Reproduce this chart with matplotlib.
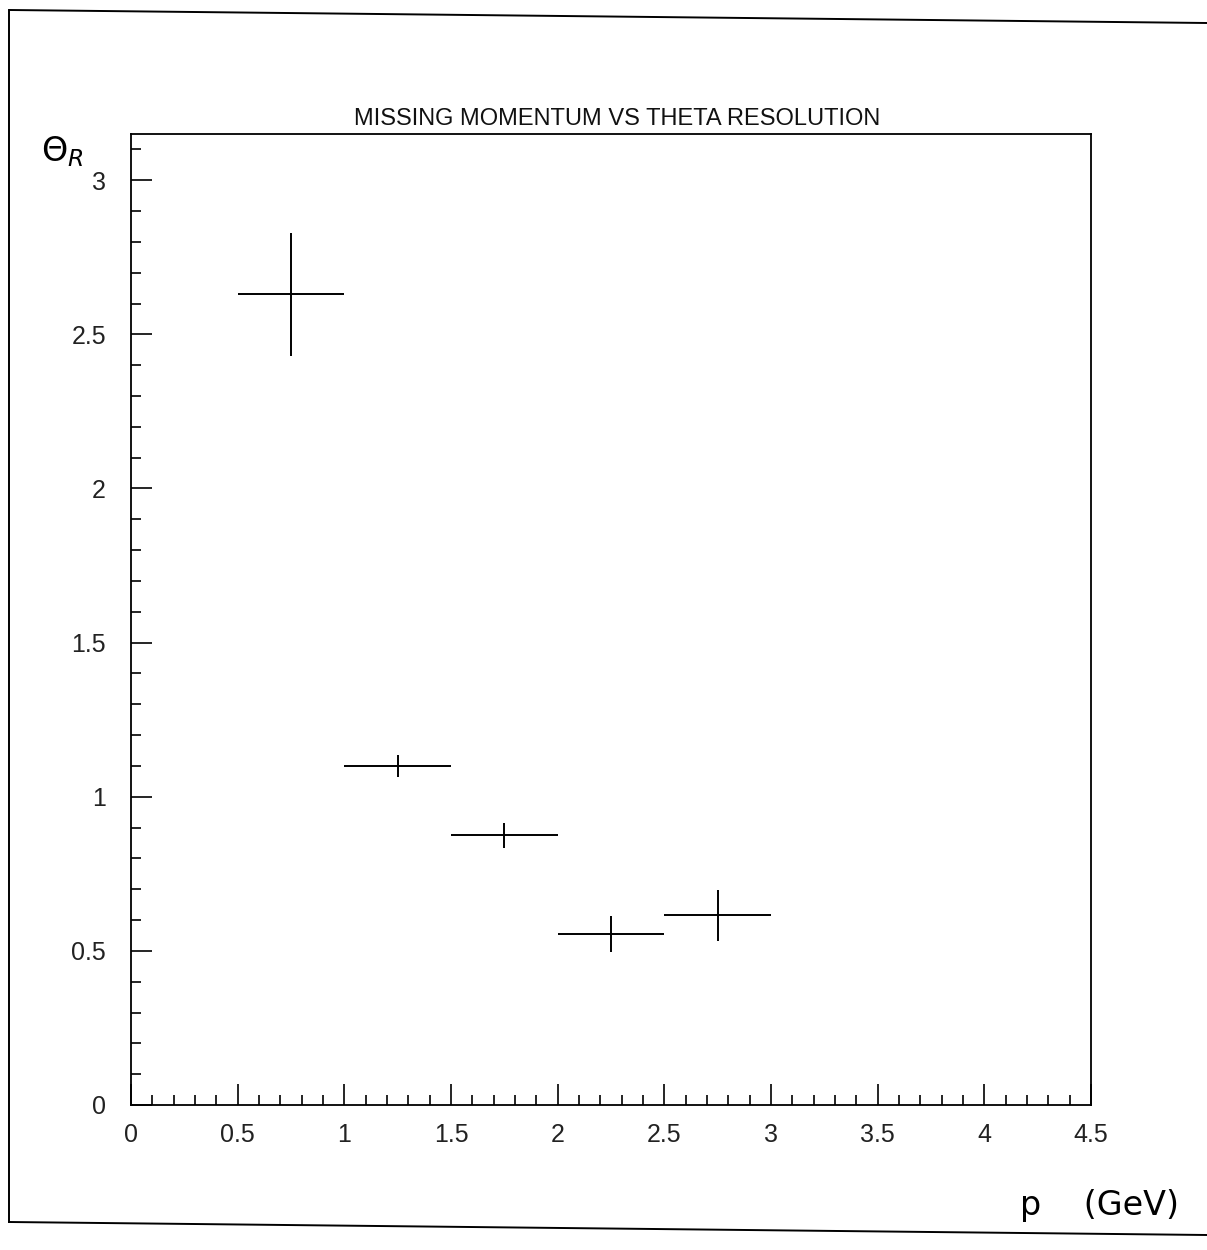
import numpy as np
import matplotlib.pyplot as plt
from matplotlib.lines import Line2D
from matplotlib.ticker import MultipleLocator

# momentum bins (GeV) and theta resolution per bin
p_low = [0.5, 1.0, 1.5, 2.0, 2.5]
p_high = [1.0, 1.5, 2.0, 2.5, 3.0]
theta_res = [2.63, 1.10, 0.875, 0.555, 0.615]
theta_err = [0.20, 0.037, 0.040, 0.058, 0.083]

x_ticks = [0, 0.5, 1, 1.5, 2, 2.5, 3, 3.5, 4, 4.5]
x_ticklabels = ["0", "0.5", "1", "1.5", "2", "2.5", "3", "3.5", "4", "4.5"]
y_ticks = [0, 0.5, 1, 1.5, 2, 2.5, 3]
y_ticklabels = ["0", "0.5", "1", "1.5", "2", "2.5", "3"]

FONT = ["Liberation Sans Narrow", "Liberation Sans", "DejaVu Sans"]
W, H = 1207, 1250

fig = plt.figure(figsize=(W / 100, H / 100), dpi=100, facecolor="white")
ax = fig.add_axes([131 / W, 1 - 1105 / H, (1091 - 131) / W, (1105 - 134) / H])

p_low = np.array(p_low)
p_high = np.array(p_high)
centers = (p_low + p_high) / 2
half = (p_high - p_low) / 2
ax.errorbar(centers, theta_res, xerr=half, yerr=theta_err, fmt="none",
            ecolor="black", elinewidth=1.4, capsize=0)

ax.set_xlim(0, 4.5)
ax.set_ylim(0, 3.15)
ax.set_xticks(x_ticks)
ax.set_xticklabels(x_ticklabels)
ax.set_yticks(y_ticks)
ax.set_yticklabels(y_ticklabels)
ax.xaxis.set_minor_locator(MultipleLocator(0.1))
ax.yaxis.set_minor_locator(MultipleLocator(0.1))
ax.tick_params(which="both", direction="in", top=False, right=False,
               width=1.2, labelsize=18, colors="black")
ax.tick_params(which="major", length=15)
ax.tick_params(which="minor", length=7)
ax.tick_params(axis="x", which="major", pad=13)
ax.tick_params(axis="y", which="major", pad=18)
for lab in ax.get_xticklabels() + ax.get_yticklabels():
    lab.set_family(FONT)
    lab.set_color("#222222")
for spine in ax.spines.values():
    spine.set_linewidth(1.3)

fig.text(617 / W, 1 - 119 / H, "MISSING MOMENTUM VS THETA RESOLUTION",
         ha="center", va="center", fontsize=17, family=FONT, color="#111111")

# hand-written axis labels
fig.text(62 / W, 1 - 152 / H, r"$\Theta_R$", ha="center", va="center",
         fontsize=24, color="black")
fig.text(1100 / W, 1 - 1222 / H, "p    (GeV)", ha="center", va="bottom",
         fontsize=24, color="black", family="DejaVu Sans")

# outer page frame (scan is slightly skewed)
def fig_line(x0, y0, x1, y1):
    fig.add_artist(Line2D([x0 / W, x1 / W], [1 - y0 / H, 1 - y1 / H],
                          color="black", lw=1.4, transform=fig.transFigure))

fig_line(10, 10, 1207, 23)
fig_line(9, 10, 9, 1222)
fig_line(9, 1222, 1207, 1235)

fig.savefig("out.png", dpi=100, facecolor="white")
